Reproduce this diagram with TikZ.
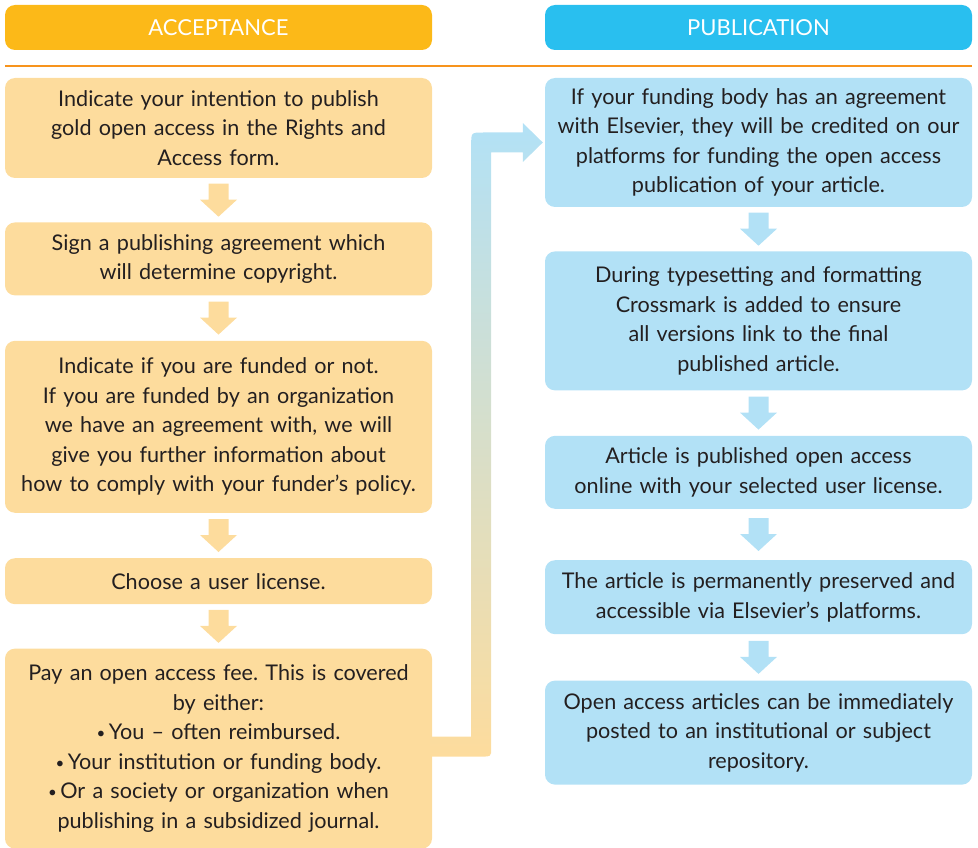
\documentclass[tikz,border=0pt]{standalone}
\usepackage{fontspec}
\usepackage{graphicx}
\setmainfont{Lato}
\usetikzlibrary{positioning,calc}

\definecolor{acchead}{HTML}{FCB918}
\definecolor{pubhead}{HTML}{29BFEF}
\definecolor{accfill}{HTML}{FDDC9D}
\definecolor{pubfill}{HTML}{B2E1F6}
\definecolor{rule}{HTML}{F7941D}
\definecolor{ink}{HTML}{231F20}

% down arrow centred in the gap between two boxes of one column
\newcommand{\flowstep}[3]{%
  \coordinate (mid) at ($(#2.south)!0.5!(#3.north)$);
  \fill[#1] ($(mid)+(-10,-16.5)$) -- ($(mid)+(10,-16.5)$)
    -- ($(mid)+(10,-0.5)$) -- ($(mid)+(18.5,-0.5)$)
    -- ($(mid)+(0,16.5)$) -- ($(mid)+(-18.5,-0.5)$)
    -- ($(mid)+(-10,-0.5)$) -- cycle;}
\newcommand{\listdot}{\raisebox{.1ex}{\scalebox{.7}{\textbullet}}\,}

\begin{document}
\begin{tikzpicture}[x=1pt, y=-1pt,
    head/.style={rounded corners=10pt, minimum width=427pt, minimum height=45pt,
      text=white, font=\fontsize{22}{26}\selectfont},
    box/.style={rounded corners=10pt, minimum width=427pt, text width=420pt,
      align=center, inner sep=0pt, text=ink,
      font=\fontsize{21.6}{29.5}\selectfont\frenchspacing},
    accbox/.style={box, fill=accfill},
    pubbox/.style={box, fill=pubfill}]
\useasboundingbox (0,0) rectangle (978,848);

\node[head, fill=acchead] (acchd) at (218.5,27.5) {ACCEPTANCE};
\node[head, fill=pubhead] (pubhd) at (758.5,27.5) {PUBLICATION};
\draw[rule, line width=1.5pt] (5,66) -- (972,66);

% acceptance column
\node[accbox, minimum height=100pt] (acc1) at (218.5,128)
  {Indicate your intention to publish\\gold open access in the Rights and\\Access form.};
\node[accbox, minimum height=73pt, below=44pt of acc1] (acc2)
  {Sign a publishing agreement which\\will determine copyright.};
\node[accbox, minimum height=172pt, below=45pt of acc2] (acc3)
  {Indicate if you are funded or not.\\If you are funded by an organization\\we have an agreement with, we will\\give you further information about\\how to comply with your funder’s policy.};
\node[accbox, minimum height=46pt, below=45pt of acc3] (acc4)
  {Choose a user license.};
\node[accbox, minimum height=200pt, below=44pt of acc4] (acc5)
  {Pay an open access fee. This is covered\\by either:\\\listdot You – often reimbursed.\\\listdot Your institution or funding body.\\\listdot Or a society or organization when\\publishing in a subsidized journal.};

% publication column
\node[pubbox, minimum height=129pt] (pub1) at (758.5,142.5)
  {If your funding body has an agreement\\with Elsevier, they will be credited on our\\platforms for funding the open access\\publication of your article.};
\node[pubbox, minimum height=139pt, below=44pt of pub1] (pub2)
  {During typesetting and formatting\\Crossmark is added to ensure\\all versions link to the final\\published article.};
\node[pubbox, minimum height=73pt, below=45pt of pub2] (pub3)
  {Article is published open access\\online with your selected user license.};
\node[pubbox, minimum height=74pt, below=51pt of pub3] (pub4)
  {The article is permanently preserved and\\accessible via Elsevier’s platforms.};
\node[pubbox, minimum height=104pt, below=46pt of pub4] (pub5)
  {Open access articles can be immediately\\posted to an institutional or subject\\repository.};

\flowstep{accfill}{acc1}{acc2}
\flowstep{accfill}{acc2}{acc3}
\flowstep{accfill}{acc3}{acc4}
\flowstep{accfill}{acc4}{acc5}
\flowstep{pubfill}{pub1}{pub2}
\flowstep{pubfill}{pub2}{pub3}
\flowstep{pubfill}{pub3}{pub4}
\flowstep{pubfill}{pub4}{pub5}

% band from the fee box up to the first publication box
\shade[top color=pubfill, bottom color=accfill]
  let \p1=(acc5.east), \p2=(pub1.west) in
  (\x1-2,\y1+12) -- (\x1+39,\y1+12) -- (\x1+39,\y2-2)
  .. controls (\x1+39,\y2+10) .. (\x1+51,\y2+10)
  -- (\x2-22,\y2+10) -- (\x2-22,\y2+19.5) -- (\x2-2,\y2)
  -- (\x2-22,\y2-19.5) -- (\x2-22,\y2-10) -- (\x1+59,\y2-10)
  -- (\x1+59,\y1+0) .. controls (\x1+59,\y1-8) .. (\x1+47,\y1-8)
  -- (\x1-2,\y1-8) -- cycle;
\end{tikzpicture}
\end{document}
